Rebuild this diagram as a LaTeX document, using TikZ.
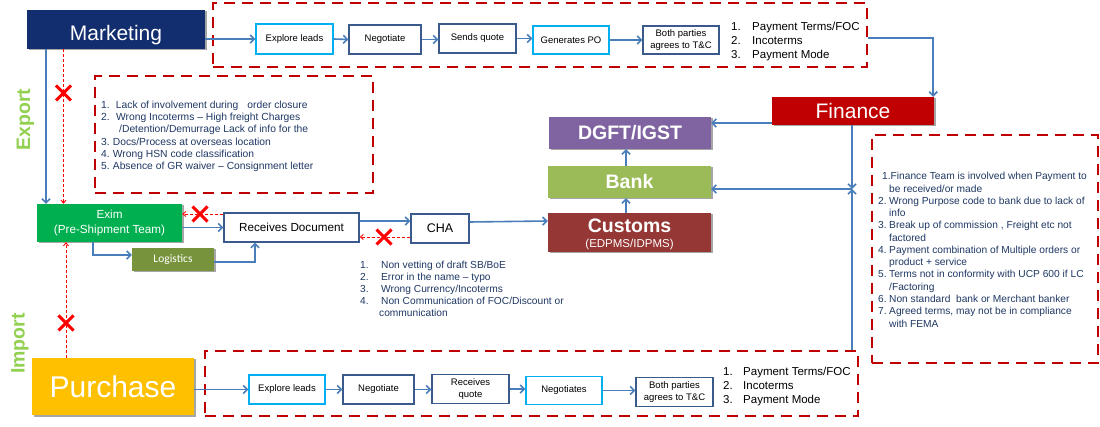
\documentclass[tikz,border=0pt]{standalone}
\usepackage{fontspec}
\setmainfont{Liberation Sans}
\newfontfamily\calib{Carlito}
\usetikzlibrary{arrows.meta,shadows,shapes.misc}
\definecolor{arrowblue}{HTML}{4A7EBB}
\definecolor{dashred}{HTML}{C00000}
\definecolor{xred}{HTML}{FF0000}
\definecolor{cyanb}{HTML}{00B0F0}
\definecolor{darkb}{HTML}{3A5A8C}
\definecolor{navy}{HTML}{132E6E}
\definecolor{fincol}{HTML}{C00000}
\definecolor{dgftcol}{HTML}{8064A2}
\definecolor{bankcol}{HTML}{9BBB59}
\definecolor{custcol}{HTML}{953735}
\definecolor{eximcol}{HTML}{00B050}
\definecolor{logcol}{HTML}{77933C}
\definecolor{purcol}{HTML}{FFC000}
\definecolor{lblgreen}{HTML}{92D050}
\definecolor{listblue}{HTML}{1F3864}
\newcommand{\fs}[2]{\fontsize{#1}{#2}\selectfont}
\begin{document}
\begin{tikzpicture}[x=1pt,y=-1pt,
  tbox/.style={draw=#1, line width=1.3pt, fill=white, inner sep=0pt, align=center, font=\fs{9.5}{11}},
  cbox/.style={fill=#1, text=white, inner sep=0pt, align=center,
     drop shadow={shadow xshift=1.5pt,shadow yshift=-1.5pt,opacity=0.35,fill=black}},
  ar/.style={draw=arrowblue, line width=1.6pt, -{Straight Barb[length=4pt,width=8pt]}},
  rar/.style={draw=xred, line width=0.9pt, dash pattern=on 3pt off 2pt, -{Straight Barb[length=3pt,width=5pt]}},
  rbox/.style={draw=dashred, line width=2.3pt, dash pattern=on 11pt off 7pt, inner sep=0pt},
  xmark/.style={cross out, draw=xred, line width=3pt, minimum size=12pt, inner sep=0pt},
  lst/.style={anchor=north west, inner sep=0pt, align=left, text=listblue},
  lbl/.style={text=lblgreen, font=\bfseries\fs{19.5}{22}, rotate=90, inner sep=0pt}
]
\useasboundingbox (0,0) rectangle (1100,427);
\fill[white] (0,0) rectangle (1100,427);

% dashed frames
\node[rbox, minimum width=654pt, minimum height=64pt] (topbox) at (540,35) {};
\node[rbox, minimum width=653pt, minimum height=65pt] (pbox) at (531.5,383.5) {};
\node[rbox, minimum width=278pt, minimum height=117pt] (lbox) at (234,134.5) {};
\node[rbox, minimum width=226pt, minimum height=228pt] (rbx) at (985,249) {};

% main coloured boxes
\node[cbox=navy, minimum width=178pt, minimum height=39pt, font=\fs{21}{24}] (mkt) at (116,29.5) {\raisebox{-11pt}[0pt][0pt]{Marketing}};
\node[cbox=fincol, minimum width=162pt, minimum height=28pt, font=\fs{21}{24}] (fin) at (853,111) {Finance};
\node[cbox=dgftcol, minimum width=162pt, minimum height=32pt, font=\bfseries\fs{19.5}{22}] (dgft) at (630,133) {DGFT/IGST};
\node[cbox=bankcol, minimum width=163pt, minimum height=32pt, font=\bfseries\fs{19.5}{22}] (bank) at (629.5,182) {Bank};
\node[cbox=custcol, minimum width=163pt, minimum height=39pt] (cust) at (629.5,232.5) {\raisebox{-4pt}[0pt][0pt]{\parbox{150pt}{\centering{\bfseries\fs{19.5}{20}Customs}\\[3pt]{\fs{11.5}{12}(EDPMS/IDPMS)}}}};
\node[cbox=eximcol, minimum width=145pt, minimum height=38pt] (exim) at (109.5,223) {\raisebox{-2pt}[0pt][0pt]{\parbox{140pt}{\centering\fs{11.7}{15}Exim\\(Pre-Shipment Team)}}};
\node[cbox=logcol, minimum width=82pt, minimum height=23pt, font=\calib\fs{11.5}{13}] (log) at (173,259.5) {Logistics};
\node[cbox=purcol, minimum width=162pt, minimum height=57pt, font=\fs{30}{33}] (pur) at (113,386.5) {Purchase};

% labels
\node[lbl] (exl) at (25.5,119.5) {Export};
\node[lbl] (iml) at (20,343.5) {Import};

% top row
\node[tbox=cyanb, minimum width=77pt, minimum height=30pt] (e1) at (294.5,39) {Explore leads};
\node[tbox=darkb, minimum width=72pt, minimum height=29pt] (n1) at (385,39.5) {Negotiate};
\node[tbox=darkb, minimum width=77pt, minimum height=29pt] (s1) at (477.5,38.5) {\raisebox{2pt}{Sends quote}};
\node[tbox=cyanb, minimum width=76pt, minimum height=28pt] (g1) at (571,40) {Generates PO};
\node[tbox=darkb, minimum width=76pt, minimum height=28pt, font=\fs{9.5}{12}] (b1) at (681,40) {Both parties\\agrees to T\&C};
\node[anchor=north west, inner sep=0pt, align=left, font=\fs{11.5}{14}] (tl) at (731,21.7)
 {\makebox[21pt][l]{1.}Payment Terms/FOC\\\makebox[21pt][l]{2.}Incoterms\\\makebox[21pt][l]{3.}Payment Mode};

% purchase row
\node[tbox=cyanb, minimum width=76pt, minimum height=29pt] (pe1) at (287,389.5) {Explore leads};
\node[tbox=darkb, minimum width=71pt, minimum height=29pt] (pn1) at (378.5,389.5) {Negotiate};
\node[tbox=darkb, minimum width=77pt, minimum height=29pt, font=\fs{9.5}{12}] (pq) at (470.5,389) {Receives\\quote};
\node[tbox=cyanb, minimum width=76pt, minimum height=28pt] (pn2) at (564,390.5) {Negotiates};
\node[tbox=darkb, minimum width=77pt, minimum height=29pt, font=\fs{9.5}{12}] (pb) at (674.5,392) {Both parties\\agrees to T\&C};
\node[anchor=north west, inner sep=0pt, align=left, font=\fs{11.5}{14}] (pl) at (723,366.7)
 {\makebox[20pt][l]{1.}Payment Terms/FOC\\\makebox[20pt][l]{2.}Incoterms\\\makebox[20pt][l]{3.}Payment Mode};

% middle row
\node[tbox=darkb, minimum width=135pt, minimum height=29pt, font=\fs{11.7}{14}] (rd) at (291.5,227.5) {Receives Document};
\node[tbox=darkb, minimum width=58pt, minimum height=29pt, font=\fs{12.5}{14}] (cha) at (440,228.5) {CHA};

% lists
\node[lst, font=\fs{10.3}{12.3}] (ll) at (101,100.5)
 {\makebox[14.7pt][l]{1.}Lack of involvement during\hspace{9pt}order closure\\
  \makebox[15pt][l]{2.}Wrong Incoterms -- High freight Charges\\
  \hspace{18pt}/Detention/Demurrage Lack of info for the\\
  \makebox[11.7pt][l]{3.}Docs/Process at overseas location\\
  \makebox[11.7pt][l]{4.}Wrong HSN code classification\\
  \makebox[11.7pt][l]{5.}Absence of GR waiver -- Consignment letter};
\node[lst, font=\fs{10.2}{12}] (cl) at (360,261.2)
 {\makebox[21pt][l]{1.}Non vetting of draft SB/BoE\\
  \makebox[21pt][l]{2.}Error in the name -- typo\\
  \makebox[21pt][l]{3.}Wrong Currency/Incoterms\\
  \makebox[21pt][l]{4.}Non Communication of FOC/Discount or\\
  \hspace{19pt}communication};
\node[lst, font=\fs{10.2}{12.27}] (fl) at (878,172.2)
 {\hspace{4pt}1.Finance Team is involved when Payment to\\
  \hspace{11pt}be received/or made\\
  \makebox[11pt][l]{2.}Wrong Purpose code to bank due to lack of\\
  \hspace{11pt}info\\
  \makebox[11pt][l]{3.}Break up of commission , Freight etc not\\
  \hspace{11pt}factored\\
  \makebox[11pt][l]{4.}Payment combination of Multiple orders or\\
  \hspace{11pt}product + service\\
  \makebox[11pt][l]{5.}Terms not in conformity with UCP 600 if LC\\
  \hspace{11pt}/Factoring\\
  \makebox[11pt][l]{6.}Non standard\ \ bank or Merchant banker\\
  \makebox[11pt][l]{7.}Agreed terms, may not be in compliance\\
  \hspace{11pt}with FEMA};

% top row connectors
\draw[ar] (mkt.east |- e1.west) -- (e1.west);
\draw[ar] (e1.east) -- (n1.west);
\draw[ar] (n1.east) -- (n1.east -| s1.west);
\draw[ar] (s1.east) -- (s1.east -| g1.west);
\draw[ar] (g1.east) -- (b1.west);
\draw[ar] ([yshift=-3pt]topbox.east) -| ([xshift=-1pt]fin.north east);

% purchase row connectors
\draw[ar] (pur.east |- pe1.west) -- (pe1.west);
\draw[ar] (pe1.east) -- (pn1.west);
\draw[ar] (pn1.east) -- (pn1.east -| pq.west);
\draw[ar] (pq.east) -- (pq.east -| pn2.west);
\draw[ar] (pn2.east) -- (pn2.east -| pb.west);

% finance connectors
\coordinate (jn) at (852,189);
\draw[ar] ([yshift=-12pt]fin.west) -- ([yshift=10pt]dgft.east);
\draw[ar] ([xshift=-1pt]fin.south) -- (jn);
\draw[ar] (jn |- pbox.north) -- (jn);
\draw[ar] (jn) -- ([yshift=-7pt]bank.east);
\draw[ar] ([xshift=-3.5pt]cust.north) -- ([xshift=-3.5pt]bank.south);
\draw[ar] ([xshift=-3.5pt]bank.north) -- ([xshift=-4pt]dgft.south);

% export / import connectors
\draw[ar] ([xshift=-70pt]mkt.south) -- ([xshift=-63.5pt]exim.north);
\draw[rar] ([xshift=-52.5pt]mkt.south) -- ([xshift=-46pt]exim.north);
\draw[rar] ([xshift=-47pt]pur.north) -- ([xshift=-43.5pt]exim.south);

% middle connectors
\draw[ar] (exim.east |- rd.west) -- (rd.west);
\draw[rar] ([yshift=13.5pt]rd.west) -- ([yshift=9pt]exim.east);
\draw[ar] ([xshift=-16.5pt]exim.south) |- ([yshift=4.5pt]log.west);
\draw[ar] ([yshift=-2.5pt]log.east) -| ([xshift=-36.5pt]rd.south);
\draw[ar] ([yshift=6.5pt]rd.east) -- ([yshift=7.5pt]cha.west);
\draw[rar] ([yshift=-8.5pt]cha.west) -- ([yshift=-9.5pt]rd.east);
\draw[ar] ([yshift=6.5pt]cha.east) -- ([yshift=11.5pt]cust.west);

% X marks
\node[xmark] (x1) at (63.5,93) {};
\node[xmark] (x2) at (200,214) {};
\node[xmark] (x3) at (384,237) {};
\node[xmark] (x4) at (66,323) {};
\end{tikzpicture}
\end{document}
